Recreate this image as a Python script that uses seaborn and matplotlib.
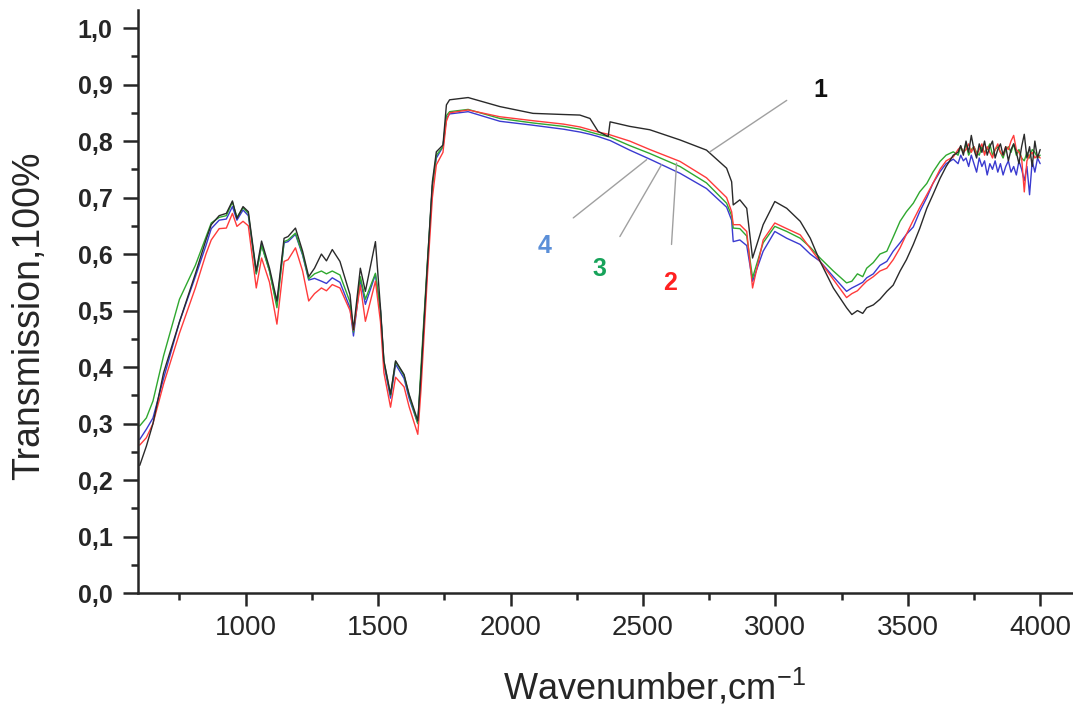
import numpy as np
import pandas as pd
import matplotlib
matplotlib.use("Agg")
import matplotlib.pyplot as plt
import seaborn as sns
from matplotlib.ticker import MultipleLocator, FuncFormatter

wavenumber = [600, 625, 650, 690, 750, 810, 850, 870, 900, 927, 950, 967, 990, 1010,
              1040, 1060, 1090, 1118, 1145, 1160, 1188, 1215, 1238, 1260, 1286, 1305,
              1327, 1356, 1394, 1407, 1433, 1452, 1490, 1509, 1522, 1547, 1566, 1598,
              1617, 1650, 1662, 1686, 1705, 1720, 1745, 1758, 1770, 1840, 1960, 2085,
              2200, 2262, 2300, 2331, 2369, 2376, 2450, 2526, 2640, 2740, 2816, 2835,
              2841, 2866, 2892, 2914, 2954, 2998, 3043, 3094, 3132, 3169, 3219,
              3269, 3289, 3310, 3330, 3345, 3370, 3395, 3421, 3445, 3471, 3495, 3521,
              3545, 3572, 3595, 3622, 3645, 3672, 3690, 3700, 3710, 3720, 3730, 3740,
              3750, 3760, 3770, 3780, 3790, 3800, 3810, 3820, 3830, 3840, 3850, 3860,
              3870, 3880, 3890, 3900, 3910, 3920, 3930, 3940, 3950, 3960, 3970, 3980,
              3990, 4000]

muestra_1 = [0.226, 0.26, 0.30, 0.39, 0.48, 0.565, 0.625, 0.652, 0.668, 0.672, 0.694, 0.663,
             0.684, 0.675, 0.570, 0.623, 0.575, 0.517, 0.628, 0.631, 0.646, 0.605, 0.560,
             0.575, 0.600, 0.588, 0.608, 0.587, 0.528, 0.466, 0.575, 0.534, 0.622, 0.505,
             0.411, 0.352, 0.411, 0.387, 0.352, 0.305, 0.387, 0.581, 0.728, 0.781, 0.793,
             0.864, 0.873, 0.877, 0.861, 0.849, 0.847, 0.846, 0.840, 0.817, 0.808, 0.834,
             0.826, 0.820, 0.802, 0.784, 0.752, 0.728, 0.687, 0.696, 0.681, 0.593, 0.652,
             0.693, 0.681, 0.658, 0.628, 0.587, 0.540,
             0.505, 0.493, 0.50, 0.495, 0.505, 0.51, 0.52, 0.534, 0.545, 0.570, 0.59, 0.617,
             0.645, 0.681, 0.705, 0.734, 0.755, 0.775, 0.78, 0.792, 0.775, 0.80, 0.78, 0.81,
             0.785, 0.77, 0.795, 0.78, 0.80, 0.775, 0.79, 0.80, 0.77, 0.785, 0.795, 0.775,
             0.79, 0.765, 0.785, 0.795, 0.78, 0.76, 0.79, 0.812, 0.77, 0.79, 0.755, 0.80,
             0.77, 0.785]

muestra_2 = [0.262, 0.275, 0.30, 0.37, 0.46, 0.54, 0.60, 0.625, 0.645, 0.646, 0.672, 0.649,
             0.658, 0.650, 0.540, 0.593, 0.55, 0.476, 0.587, 0.59, 0.611, 0.57, 0.517,
             0.53, 0.540, 0.535, 0.546, 0.540, 0.50, 0.465, 0.545, 0.481, 0.552, 0.48,
             0.39, 0.329, 0.382, 0.365, 0.33, 0.281, 0.36, 0.56, 0.70, 0.758, 0.78,
             0.835, 0.850, 0.855, 0.843, 0.836, 0.830, 0.825, 0.820, 0.816, 0.812, 0.811,
             0.80, 0.785, 0.764, 0.735, 0.70, 0.675, 0.652, 0.652, 0.640, 0.540, 0.625,
             0.655, 0.645, 0.634, 0.610, 0.587, 0.555,
             0.523, 0.530, 0.535, 0.545, 0.552, 0.56, 0.57, 0.575, 0.59, 0.611, 0.635, 0.660,
             0.682, 0.705, 0.725, 0.750, 0.765, 0.772, 0.785, 0.79, 0.78, 0.785, 0.795, 0.78,
             0.79, 0.775, 0.785, 0.795, 0.775, 0.79, 0.78, 0.77, 0.785, 0.795, 0.78, 0.775,
             0.79, 0.785, 0.80, 0.81, 0.785, 0.78, 0.77, 0.71, 0.765, 0.775, 0.78, 0.77,
             0.775, 0.77]

muestra_3 = [0.296, 0.31, 0.34, 0.42, 0.52, 0.58, 0.63, 0.655, 0.665, 0.668, 0.692, 0.665,
             0.682, 0.672, 0.565, 0.615, 0.57, 0.505, 0.622, 0.625, 0.637, 0.60, 0.556,
             0.565, 0.570, 0.565, 0.570, 0.563, 0.515, 0.462, 0.560, 0.52, 0.566, 0.50,
             0.41, 0.35, 0.41, 0.385, 0.35, 0.30, 0.40, 0.585, 0.72, 0.775, 0.79,
             0.845, 0.852, 0.856, 0.840, 0.832, 0.826, 0.821, 0.816, 0.812, 0.808, 0.807,
             0.792, 0.778, 0.755, 0.726, 0.69, 0.668, 0.646, 0.645, 0.632, 0.558, 0.62,
             0.649, 0.640, 0.628, 0.612, 0.593, 0.570,
             0.549, 0.552, 0.565, 0.56, 0.575, 0.585, 0.60, 0.605, 0.63, 0.658, 0.675, 0.690,
             0.71, 0.725, 0.745, 0.764, 0.775, 0.781, 0.775, 0.79, 0.78, 0.795, 0.775, 0.785,
             0.79, 0.78, 0.775, 0.79, 0.78, 0.785, 0.795, 0.775, 0.785, 0.79, 0.78, 0.77,
             0.785, 0.79, 0.78, 0.795, 0.775, 0.785, 0.77, 0.765, 0.78, 0.77, 0.785, 0.78,
             0.77, 0.775]

muestra_4 = [0.272, 0.29, 0.31, 0.38, 0.48, 0.56, 0.615, 0.645, 0.66, 0.662, 0.684, 0.66,
             0.678, 0.668, 0.565, 0.617, 0.57, 0.51, 0.62, 0.622, 0.635, 0.598, 0.554,
             0.557, 0.552, 0.548, 0.558, 0.550, 0.505, 0.455, 0.555, 0.511, 0.564, 0.50,
             0.405, 0.345, 0.405, 0.38, 0.345, 0.30, 0.385, 0.575, 0.72, 0.77, 0.79,
             0.84, 0.848, 0.852, 0.835, 0.828, 0.821, 0.816, 0.812, 0.808, 0.802, 0.801,
             0.784, 0.768, 0.743, 0.716, 0.683, 0.66, 0.622, 0.625, 0.615, 0.552, 0.605,
             0.640, 0.628, 0.617, 0.600, 0.587, 0.560,
             0.534, 0.540, 0.545, 0.55, 0.558, 0.565, 0.58, 0.587, 0.605, 0.620, 0.635, 0.648,
             0.675, 0.700, 0.725, 0.746, 0.76, 0.768, 0.76, 0.775, 0.765, 0.77, 0.755, 0.775,
             0.76, 0.745, 0.77, 0.755, 0.765, 0.74, 0.76, 0.75, 0.765, 0.745, 0.76, 0.74,
             0.755, 0.765, 0.745, 0.755, 0.74, 0.765, 0.75, 0.73, 0.755, 0.705, 0.765, 0.745,
             0.77, 0.76]

etiquetas = ["4", "3", "2", "1"]
colores_lineas = ["#3a3ad0", "#2fa82f", "#ff3b3b", "#2a2a2a"]
colores_texto = ["#5b8fd8", "#17a35a", "#ff2020", "#101010"]

# Posición de las etiquetas y líneas guía (en unidades de datos)
pos_texto = [(2130, 0.614), (2337, 0.573), (2602, 0.548), (3170, 0.89)]
guia_inicio = [(2237, 0.664), (2413, 0.631), (2608, 0.617), (3043, 0.872)]
guia_fin = [(2514, 0.767), (2570, 0.758), (2627, 0.761), (2753, 0.781)]

# Tabla larga para seaborn
n = len(wavenumber)
df = pd.DataFrame({
    "wavenumber": wavenumber * 4,
    "transmission": muestra_4 + muestra_3 + muestra_2 + muestra_1,
    "muestra": ["4"] * n + ["3"] * n + ["2"] * n + ["1"] * n,
})

sns.set_style("ticks")
plt.rcParams["font.family"] = ["Liberation Sans", "DejaVu Sans"]

fig = plt.figure(figsize=(10.73, 7.12), dpi=100)
ax = fig.add_axes([0.129, 0.167, 0.871, 0.819])

sns.lineplot(
    data=df, x="wavenumber", y="transmission", hue="muestra",
    hue_order=etiquetas, palette=dict(zip(etiquetas, colores_lineas)),
    estimator=None, sort=False, linewidth=1.0, legend=False, ax=ax,
)

# Líneas guía y números de las curvas
for lab, col, p, a, b in zip(etiquetas, colores_texto, pos_texto, guia_inicio, guia_fin):
    ax.plot([a[0], b[0]], [a[1], b[1]], color="#a0a0a0", linewidth=1.0)
    ax.text(p[0], p[1], lab, color=col, fontsize=18, fontweight="bold",
            ha="center", va="center")

ax.set_xlim(595, 4124)
ax.set_ylim(0, 1.032)
ax.xaxis.set_major_locator(MultipleLocator(500))
ax.xaxis.set_minor_locator(MultipleLocator(250))
ax.yaxis.set_major_locator(MultipleLocator(0.1))
ax.yaxis.set_minor_locator(MultipleLocator(0.05))
ax.yaxis.set_major_formatter(FuncFormatter(lambda v, _: f"{v:.1f}".replace(".", ",")))

ax.tick_params(axis="x", which="major", length=9.5, width=1.8, labelsize=20, pad=6)
ax.tick_params(axis="y", which="major", length=10.5, width=1.8, labelsize=18, pad=8)
ax.tick_params(axis="both", which="minor", length=5, width=1.8)
for t in ax.get_yticklabels():
    t.set_fontweight("bold")
for s in ["left", "bottom"]:
    ax.spines[s].set_linewidth(1.8)
sns.despine(ax=ax)

ax.set_xlabel("Wavenumber,cm$^{\\mathregular{-1}}$", fontsize=26)
ax.xaxis.set_label_coords(0.552, -0.162)
ax.xaxis.label.set_va("center")
ax.set_ylabel("Transmission,100%", fontsize=27)
ax.yaxis.set_label_coords(-0.1166, 0.475)
ax.yaxis.label.set_va("center")

fig.savefig("out.png", dpi=100)
